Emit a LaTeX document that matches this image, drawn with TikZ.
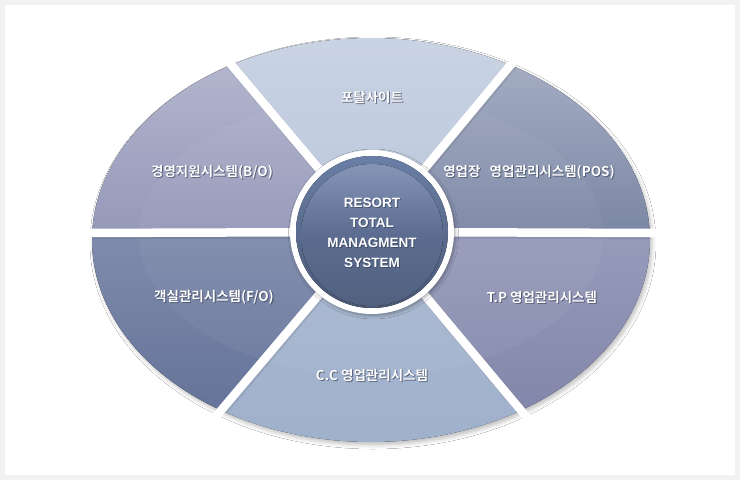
\documentclass[tikz,border=0pt]{standalone}
\usepackage{fontspec}
\newfontfamily\kr{Noto Sans CJK KR Bold}
\newfontfamily\lsans{Liberation Sans}
\usetikzlibrary{calc,shadows.blur}
\definecolor{frameg}{HTML}{F2F2F2}
\definecolor{ptA}{HTML}{CAD4E4}\definecolor{ptB}{HTML}{B7C4D9}
\definecolor{boA}{HTML}{B2B5CD}\definecolor{boB}{HTML}{9599B8}
\definecolor{psA}{HTML}{A3ACC2}\definecolor{psB}{HTML}{7C87A5}
\definecolor{foA}{HTML}{7F8CAC}\definecolor{foB}{HTML}{66739A}
\definecolor{tpA}{HTML}{979CBB}\definecolor{tpB}{HTML}{8287AB}
\definecolor{ccA}{HTML}{AAB9D2}\definecolor{ccB}{HTML}{9FB0CB}
\definecolor{cirA}{HTML}{6A7FA6}\definecolor{cirB}{HTML}{4A5876}
\definecolor{inA}{HTML}{8495B8}\definecolor{inM}{HTML}{5B6C90}\definecolor{inB}{HTML}{52617F}
\definecolor{txtsh}{HTML}{2E3850}
\tikzset{
  lbl/.style={font=\kr\fontsize{13.5}{15}\selectfont, text=white, inner sep=0pt},
  lblsh/.style={lbl, text=txtsh, text opacity=0.55},
  gapline/.style={draw=white, line width=8.5pt, line cap=butt},
  ctrtext/.style={font=\lsans\bfseries\fontsize{13.5}{20}\selectfont, align=center, inner sep=0pt}
}
\newcommand\slabel[3]{%
  \node[lblsh] (#1-sh) at ($#2+(1,1.2)$) {#3};
  \node[lblsh] (#1-sh2) at ($#2+(0.3,0.6)$) {#3};
  \node[lbl] (#1) at #2 {#3};}
\begin{document}
\begin{tikzpicture}[x=1pt,y=-1pt]
\fill[frameg] (0,0) rectangle (740,480);
\fill[white] (5,5) rectangle (735,475);
\useasboundingbox (0,0) rectangle (740,480);
\coordinate (E) at (371,240);
\coordinate (O) at (372,232);
% ellipse shadow
\path[fill=white, blur shadow={shadow xshift=2pt, shadow yshift=-3pt, shadow blur radius=4pt, shadow opacity=25}]
  (E) ellipse[x radius=279, y radius=202];
% boundary points
\foreach \n/\t in {a/-2, b/57.5, c/122.5, d/182, e/240, f/300}{
  \coordinate (p\n) at ($(E)+(\t:279 and 202)$);
}
% sectors
\fill[top color=tpA, bottom color=tpB] (O) -- (pa) arc[start angle=-2, end angle=57.5, x radius=279, y radius=202] -- cycle;
\fill[top color=ccA, bottom color=ccB] (O) -- (pb) arc[start angle=57.5, end angle=122.5, x radius=279, y radius=202] -- cycle;
\fill[top color=foA, bottom color=foB] (O) -- (pc) arc[start angle=122.5, end angle=182, x radius=279, y radius=202] -- cycle;
\fill[top color=boA, bottom color=boB] (O) -- (pd) arc[start angle=182, end angle=240, x radius=279, y radius=202] -- cycle;
\fill[top color=ptA, bottom color=ptB] (O) -- (pe) arc[start angle=240, end angle=300, x radius=279, y radius=202] -- cycle;
\fill[top color=psA, bottom color=psB] (O) -- (pf) arc[start angle=300, end angle=358, x radius=279, y radius=202] -- cycle;
% inner lighter band and gap shadows, kept inside the ellipse
\begin{scope}
\clip (E) ellipse[x radius=279, y radius=202];
\fill[white, opacity=0.04] (371,236) ellipse[x radius=232, y radius=140];
\foreach \n in {a,b,c,d,e,f}{
  \draw[draw=black, opacity=0.08, line width=9.5pt] ($(O)+(1,1.5)$) -- ($(O)!1.08!(p\n)+(1,1.5)$);
}
\end{scope}
% gaps
\foreach \n in {a,b,c,d,e,f}{
  \draw[gapline] (O) -- ($(O)!1.08!(p\n)$);
}
% centre circle
\fill[white, blur shadow={shadow xshift=1.5pt, shadow yshift=-2pt, shadow blur radius=3pt, shadow opacity=30}] (O) circle[radius=82];
\fill[top color=cirA, bottom color=cirB] (O) circle[radius=76];
\fill[top color=inA, bottom color=inB, middle color=inM] (372,235) circle[radius=71];
\node[ctrtext, text=txtsh, text opacity=0.6] (ctr-sh) at (373,234.2) {RESORT\\TOTAL\\MANAGMENT\\SYSTEM};
\node[ctrtext, text=white] (ctr) at (372,233) {RESORT\\TOTAL\\MANAGMENT\\SYSTEM};
% labels
\slabel{portal}{(372,97)}{포탈사이트}
\slabel{bo}{(212,172)}{경영지원시스템(B/O)}
\slabel{pos}{(529,172)}{영업장\ \ \ 영업관리시스템(POS)}
\slabel{fo}{(214,297)}{객실관리시스템(F/O)}
\slabel{tp}{(542,297)}{T.P 영업관리시스템}
\slabel{cc}{(372,375)}{C.C 영업관리시스템}
\end{tikzpicture}
\end{document}
